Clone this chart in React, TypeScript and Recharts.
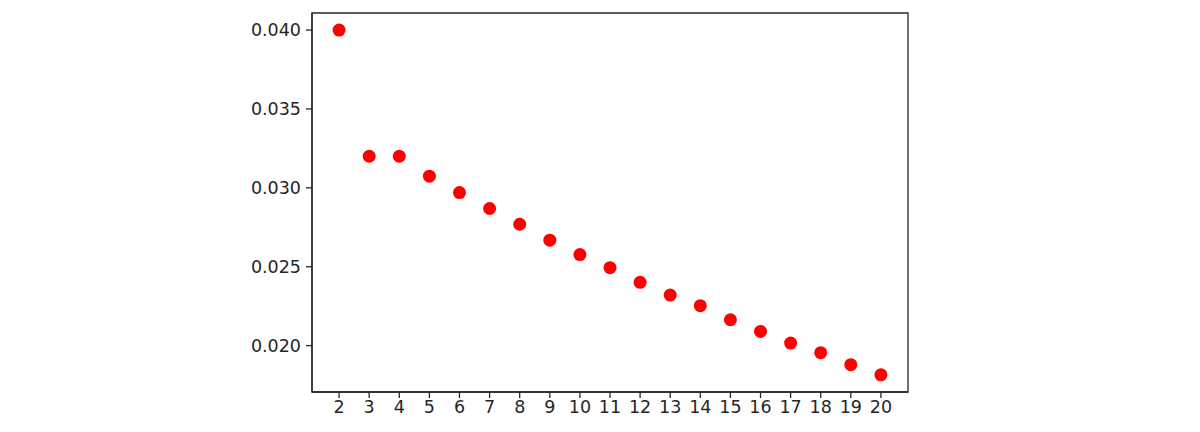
import { ScatterChart, Scatter, XAxis, YAxis, ReferenceArea } from 'recharts'

// k values on the x axis and the measured score for each
const kValues = [2, 3, 4, 5, 6, 7, 8, 9, 10, 11, 12, 13, 14, 15, 16, 17, 18, 19, 20]
const scores = [
  0.04, 0.032, 0.032, 0.03074, 0.0297, 0.02869, 0.02769, 0.02668, 0.02577, 0.02494,
  0.02401, 0.0232, 0.02253, 0.02164, 0.0209, 0.02016, 0.01955, 0.01879, 0.01815,
]
const yTicks = [0.02, 0.025, 0.03, 0.035, 0.04]

const points = kValues.map((k, i) => ({ k, score: scores[i] }))

const xDomain: [number, number] = [1.1, 20.9]
const yDomain: [number, number] = [0.01706, 0.04108]

const axisColor = '#262626'
const tickFont = { fontSize: 17.5, fill: axisColor, fontFamily: 'DejaVu Sans' }

export default function App() {
  return (
    <div style={{ position: 'absolute', left: 0, top: 0, background: '#fff' }}>
      <ScatterChart width={1200} height={432} margin={{ top: 13, right: 292, bottom: 8, left: 252 }}>
        <XAxis
          dataKey="k"
          type="number"
          domain={xDomain}
          ticks={kValues}
          interval={0}
          allowDataOverflow
          height={32}
          stroke={axisColor}
          strokeWidth={1.3}
          tickSize={6}
          tickMargin={3}
          tick={tickFont}
        />
        <YAxis
          dataKey="score"
          type="number"
          domain={yDomain}
          ticks={yTicks}
          allowDataOverflow
          width={60}
          stroke={axisColor}
          strokeWidth={1.3}
          tickSize={6}
          tickMargin={5}
          tick={tickFont}
          tickFormatter={(v: number) => v.toFixed(3)}
        />
        {/* frame around the plot area */}
        <ReferenceArea
          x1={xDomain[0]}
          x2={xDomain[1]}
          y1={yDomain[0]}
          y2={yDomain[1]}
          fill="none"
          stroke={axisColor}
          strokeWidth={1.3}
          ifOverflow="visible"
        />
        <Scatter
          data={points}
          fill="#ff0000"
          isAnimationActive={false}
          shape={(p: any) => <circle cx={p.cx} cy={p.cy} r={6.5} fill="#ff0000" />}
        />
      </ScatterChart>
    </div>
  )
}
